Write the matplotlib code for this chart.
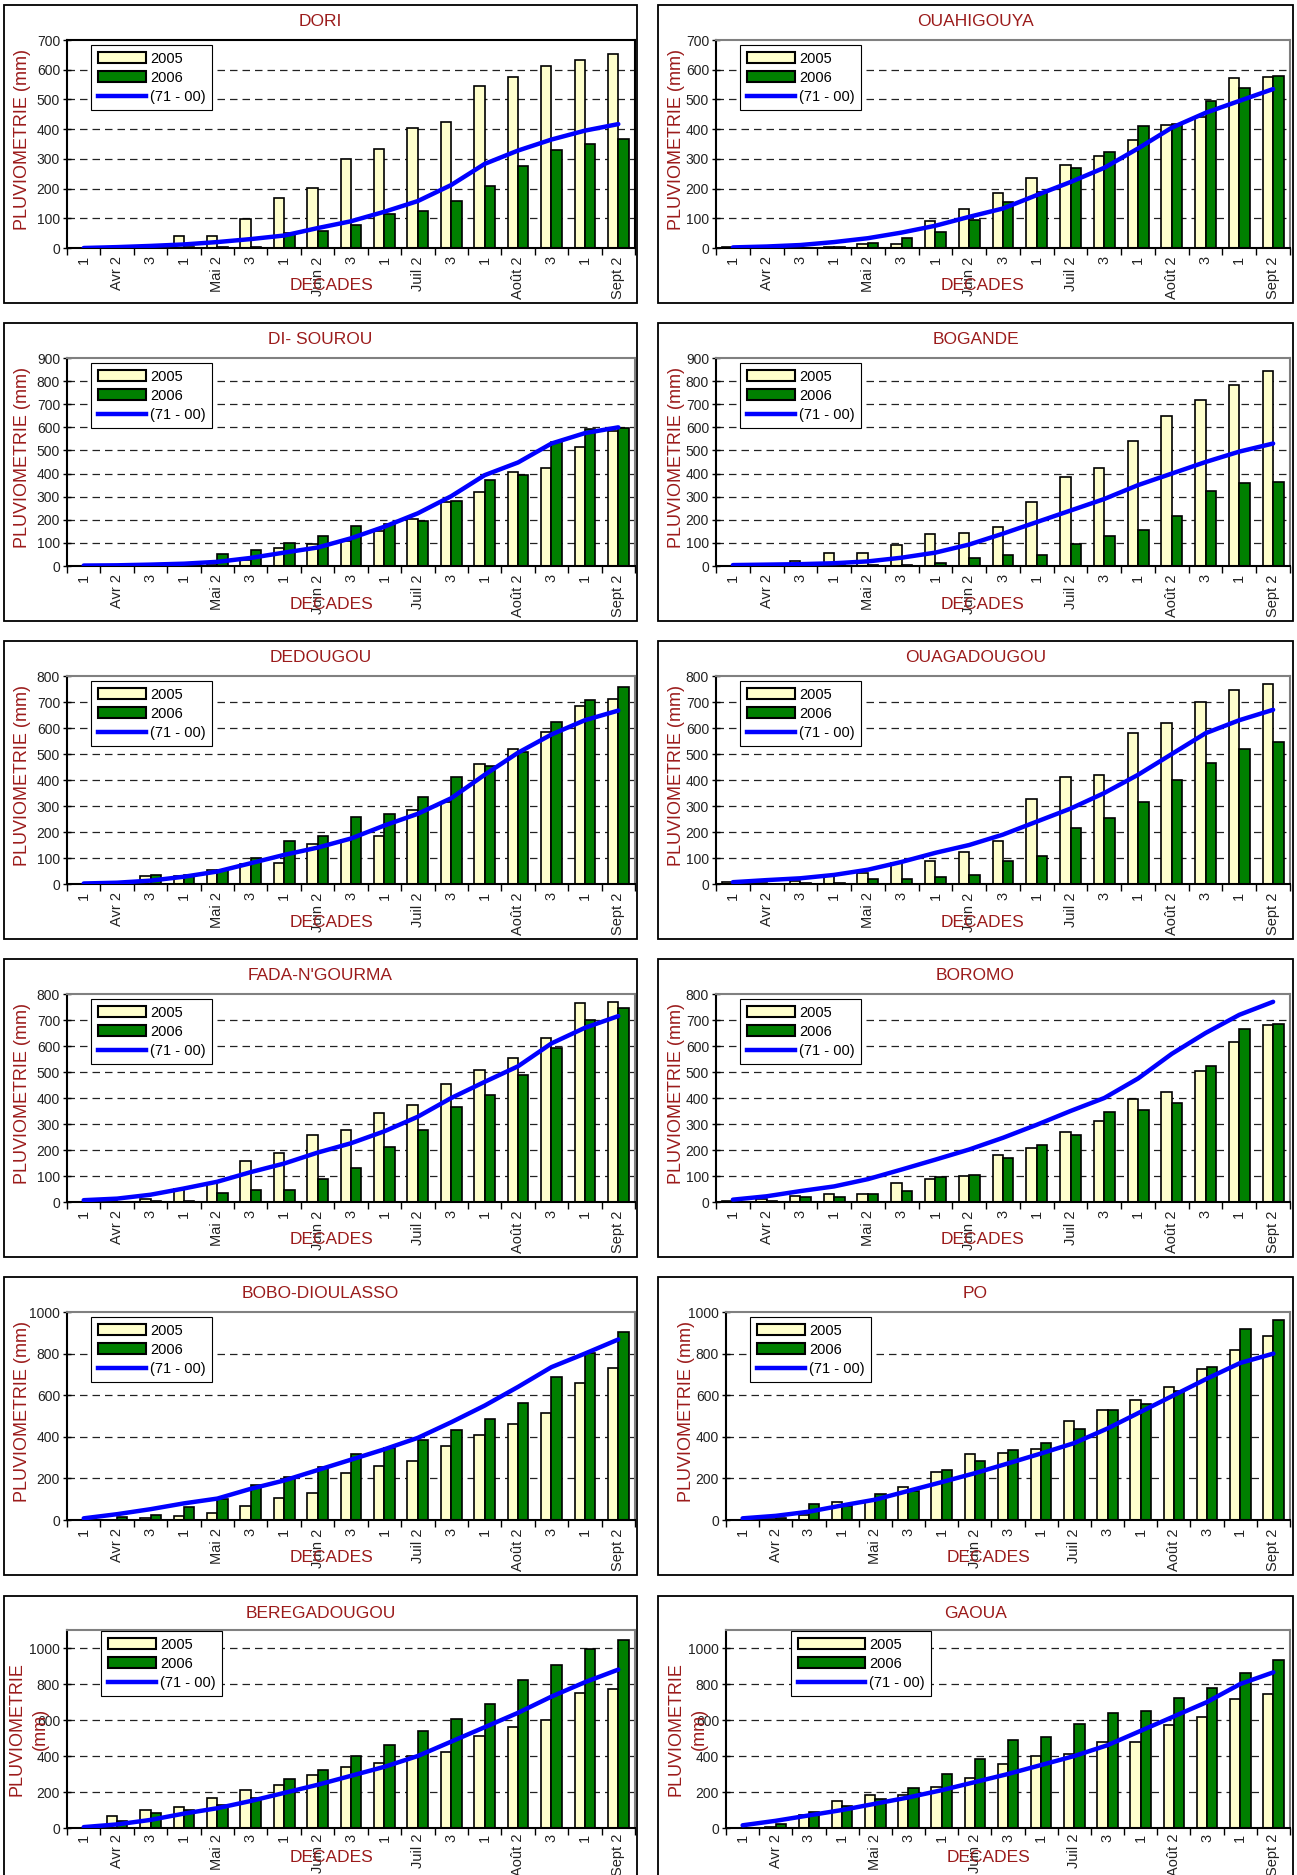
import numpy as np
import matplotlib
matplotlib.use("Agg")
import matplotlib.pyplot as plt
from matplotlib import font_manager
from matplotlib.patches import Rectangle, Patch
from matplotlib.lines import Line2D

plt.rcParams['font.family'] = ['Liberation Sans', 'DejaVu Sans']

# decades d'avril a septembre
decades = ['1', 'Avr 2', '3', '1', 'Mai 2', '3', '1', 'Juin 2', '3',
           '1', 'Juil 2', '3', '1', 'Août 2', '3', '1', 'Sept 2']

# cumuls pluviometriques (mm) : 2005, 2006 et normale 71-00
dori_05 = [0, 0, 0, 41, 41, 96, 168, 203, 300, 332, 404, 424, 544, 577, 611, 633, 652]
dori_06 = [0, 0, 0, 2, 4, 4, 52, 58, 78, 113, 124, 158, 210, 277, 330, 350, 366]
dori_nm = [0, 3, 7, 12, 20, 30, 42, 67, 90, 122, 158, 212, 283, 328, 365, 395, 417]

ouahi_05 = [3, 0, 0, 3, 12, 14, 90, 131, 186, 236, 279, 310, 365, 415, 440, 572, 575]
ouahi_06 = [0, 0, 0, 3, 17, 35, 53, 95, 154, 187, 268, 322, 410, 418, 495, 540, 578]
ouahi_nm = [2, 5, 10, 20, 33, 52, 75, 105, 133, 178, 222, 270, 335, 405, 455, 495, 535]

sourou_05 = [0, 0, 0, 5, 10, 25, 80, 95, 108, 150, 205, 275, 320, 405, 426, 513, 585]
sourou_06 = [0, 0, 0, 5, 50, 71, 100, 128, 175, 180, 195, 280, 370, 393, 537, 593, 597]
sourou_nm = [2, 3, 6, 10, 18, 35, 58, 80, 120, 170, 228, 302, 393, 448, 530, 575, 600]

bogande_05 = [0, 0, 21, 57, 57, 91, 139, 143, 170, 279, 385, 425, 540, 650, 720, 785, 845]
bogande_06 = [0, 0, 0, 3, 5, 5, 14, 36, 46, 46, 96, 130, 155, 215, 325, 360, 365]
bogande_nm = [4, 6, 8, 12, 20, 36, 58, 93, 140, 190, 240, 290, 350, 400, 450, 495, 530]

dedougou_05 = [0, 0, 30, 30, 52, 78, 81, 154, 170, 185, 284, 315, 460, 520, 585, 684, 712]
dedougou_06 = [0, 3, 35, 36, 55, 100, 165, 186, 257, 271, 335, 410, 453, 507, 624, 706, 758]
dedougou_nm = [2, 5, 13, 28, 48, 80, 112, 140, 175, 225, 270, 330, 420, 505, 575, 630, 667]

ouaga_05 = [7, 5, 12, 30, 43, 81, 87, 124, 166, 326, 413, 420, 580, 620, 700, 745, 770]
ouaga_06 = [0, 0, 5, 5, 20, 20, 26, 35, 87, 107, 215, 255, 315, 400, 465, 520, 545]
ouaga_nm = [7, 15, 22, 35, 55, 85, 120, 150, 190, 240, 290, 350, 420, 500, 580, 630, 670]

fada_05 = [0, 2, 13, 50, 73, 156, 189, 256, 276, 344, 372, 452, 507, 555, 630, 765, 771]
fada_06 = [0, 0, 2, 5, 33, 47, 47, 87, 131, 213, 276, 367, 413, 487, 593, 700, 748]
fada_nm = [7, 13, 28, 52, 78, 115, 148, 190, 226, 272, 328, 400, 462, 522, 610, 670, 715]

boromo_05 = [3, 13, 23, 29, 31, 72, 90, 100, 180, 207, 270, 310, 395, 425, 505, 615, 680]
boromo_06 = [0, 3, 18, 18, 29, 44, 98, 103, 168, 221, 257, 345, 355, 380, 525, 665, 685]
boromo_nm = [9, 22, 42, 60, 88, 125, 163, 202, 247, 297, 350, 400, 475, 570, 650, 720, 770]

bobo_05 = [0, 0, 10, 18, 32, 66, 106, 129, 226, 258, 284, 355, 408, 460, 513, 658, 731]
bobo_06 = [0, 13, 24, 61, 101, 166, 205, 253, 318, 344, 384, 435, 484, 561, 686, 803, 903]
bobo_nm = [8, 28, 52, 80, 103, 150, 190, 240, 290, 340, 395, 470, 550, 640, 735, 800, 868]

po_05 = [0, 5, 25, 85, 93, 158, 230, 316, 321, 339, 476, 530, 575, 640, 725, 815, 885]
po_06 = [0, 10, 77, 69, 126, 140, 242, 282, 335, 372, 437, 530, 560, 620, 735, 920, 960]
po_nm = [8, 20, 40, 70, 98, 140, 182, 225, 272, 320, 370, 440, 520, 600, 680, 755, 800]

bereg_05 = [0, 65, 100, 115, 165, 210, 240, 295, 340, 360, 400, 420, 510, 560, 600, 750, 775]
bereg_06 = [0, 40, 85, 100, 130, 165, 275, 320, 400, 460, 540, 605, 690, 820, 905, 995, 1045]
bereg_nm = [5, 20, 45, 80, 110, 150, 195, 240, 290, 340, 400, 480, 560, 640, 730, 810, 880]

gaoua_05 = [0, 5, 70, 150, 185, 185, 230, 280, 355, 400, 410, 480, 480, 570, 615, 715, 745]
gaoua_06 = [0, 20, 90, 120, 160, 220, 300, 385, 490, 505, 580, 640, 650, 720, 780, 860, 935]
gaoua_nm = [15, 40, 70, 100, 135, 170, 210, 255, 300, 350, 400, 460, 540, 620, 700, 800, 865]

# (titre, 2005, 2006, normale, ymax, pas, ytick max)
stations = [
    ("DORI", dori_05, dori_06, dori_nm, 700, 100, 700),
    ("OUAHIGOUYA", ouahi_05, ouahi_06, ouahi_nm, 700, 100, 700),
    ("DI- SOUROU", sourou_05, sourou_06, sourou_nm, 900, 100, 900),
    ("BOGANDE", bogande_05, bogande_06, bogande_nm, 900, 100, 900),
    ("DEDOUGOU", dedougou_05, dedougou_06, dedougou_nm, 800, 100, 800),
    ("OUAGADOUGOU", ouaga_05, ouaga_06, ouaga_nm, 800, 100, 800),
    ("FADA-N'GOURMA", fada_05, fada_06, fada_nm, 800, 100, 800),
    ("BOROMO", boromo_05, boromo_06, boromo_nm, 800, 100, 800),
    ("BOBO-DIOULASSO", bobo_05, bobo_06, bobo_nm, 1000, 200, 1000),
    ("PO", po_05, po_06, po_nm, 1000, 200, 1000),
    ("BEREGADOUGOU", bereg_05, bereg_06, bereg_nm, 1100, 200, 1000),
    ("GAOUA", gaoua_05, gaoua_06, gaoua_nm, 1100, 200, 1000),
]


def has_font(name):
    try:
        font_manager.findfont(font_manager.FontProperties(family=name), fallback_to_default=False)
        return True
    except Exception:
        return False


if has_font('Liberation Sans Narrow'):
    narrow = ['Liberation Sans Narrow', 'Liberation Sans', 'DejaVu Sans']
    dec_size = 15
else:
    narrow = ['Liberation Sans', 'DejaVu Sans']
    dec_size = 12.5

RED = '#9B1B1B'
W, H = 1297, 1875
fig = plt.figure(figsize=(W / 100, H / 100), dpi=100)

tops = [5, 323, 641, 959, 1277, 1596]
pan_h = [298, 298, 298, 298, 298, 290]
pan_x = [(4, 637), (658, 1293)]
ax_x = [(67, 635), (716, 1290)]


def frac(x0, y0, x1, y1):
    return [x0 / W, 1 - y1 / H, (x1 - x0) / W, (y1 - y0) / H]


x = np.arange(len(decades))
for i, (name, s05, s06, snm, ymax, step, ytop) in enumerate(stations):
    row, col = divmod(i, 2)
    T = tops[row]
    ph = pan_h[row]
    p0, p1 = pan_x[col]
    fig.patches.append(Rectangle((p0 / W, 1 - (T + ph) / H), (p1 - p0) / W, ph / H,
                                 transform=fig.transFigure, facecolor='white',
                                 edgecolor='black', lw=1.3, zorder=-5))
    fig.text((p0 + p1) / 2 / W, 1 - (T + 17) / H, name, color=RED, fontsize=12.5,
             ha='center', va='center')

    a0, a1 = ax_x[col]
    if row >= 4 and col == 1:
        a0 += 10
    if row < 5:
        y0, y1 = T + 35, T + 243
    else:
        y0, y1 = T + 34, T + 232
    ax = fig.add_axes(frac(a0, y0, a1, y1))
    ax.patch.set_alpha(0)
    axw, axh = a1 - a0, y1 - y0

    ax.bar(x - 0.155, s05, 0.31, color='#FFFFCC', edgecolor='black', lw=1.2, zorder=2)
    ax.bar(x + 0.155, s06, 0.31, color='#008000', edgecolor='black', lw=1.2, zorder=2)
    ax.plot(x, snm, color='#0000FF', lw=3.2, zorder=3, solid_capstyle='round')

    ax.set_xlim(-0.5, len(decades) - 0.5)
    ax.set_ylim(0, ymax)
    yt = np.arange(0, ytop + 1, step)
    ax.set_yticks(yt)
    for v in yt[1:]:
        if v < ymax:
            ax.axhline(v, color='#222222', lw=0.9, ls=(0, (6, 4)), zorder=1)

    ax.set_xticks(x)
    ax.set_xticklabels(decades, rotation=90, fontsize=10.5, color='#222222')
    ax.set_xticks(np.arange(-0.5, len(decades)), minor=True)
    ax.tick_params(axis='x', which='major', length=0, pad=6 if row < 5 else 4)
    ax.tick_params(axis='x', which='minor', length=5, width=1, direction='out')
    ax.tick_params(axis='y', length=6, width=1, direction='inout', labelsize=10,
                   labelcolor='#222222', pad=2)

    for s in ['left', 'bottom']:
        ax.spines[s].set_linewidth(1.5)
        ax.spines[s].set_color('black')
    for s in ['top', 'right']:
        ax.spines[s].set_linewidth(1.5)
        ax.spines[s].set_color('black' if i == 0 else '#808080')

    if row < 5:
        ax.set_ylabel('PLUVIOMETRIE (mm)', color=RED, fontsize=13)
        ax.yaxis.set_label_coords((-36 if col == 0 else -31) / axw, 0.52)
    else:
        ax.set_ylabel('PLUVIOMETRIE\n(mm)', color=RED, fontsize=13, linespacing=1.5)
        ax.yaxis.set_label_coords(-18 / axw, 0.5)

    dec_off = 38 if row < 5 else 30
    ax.text(0.465, -dec_off / axh, 'DECADES', transform=ax.transAxes, color=RED,
            fontsize=dec_size, family=narrow, ha='center', va='center', zorder=5)

    handles = [Patch(facecolor='#FFFFCC', edgecolor='black', lw=1.5),
               Patch(facecolor='#008000', edgecolor='black', lw=1.5),
               Line2D([], [], color='#0000FF', lw=3.2)]
    lx = 24 if row < 5 else (34 if col == 0 else 65)
    ly = 5 if row < 5 else 1
    hl = 4.6 if name == "GAOUA" else 3.3
    leg = ax.legend(handles, ['2005', '2006', '(71 - 00)'], loc='upper left',
                    bbox_to_anchor=(lx / axw, 1 - ly / axh), borderaxespad=0,
                    fancybox=False, edgecolor='black', fontsize=10.5,
                    handlelength=hl, handleheight=0.7, handletextpad=0.3,
                    labelspacing=0.35, borderpad=0.45, framealpha=1)
    leg.get_frame().set_linewidth(0.8)
    leg.set_zorder(6)

fig.savefig("out.png", dpi=100)
